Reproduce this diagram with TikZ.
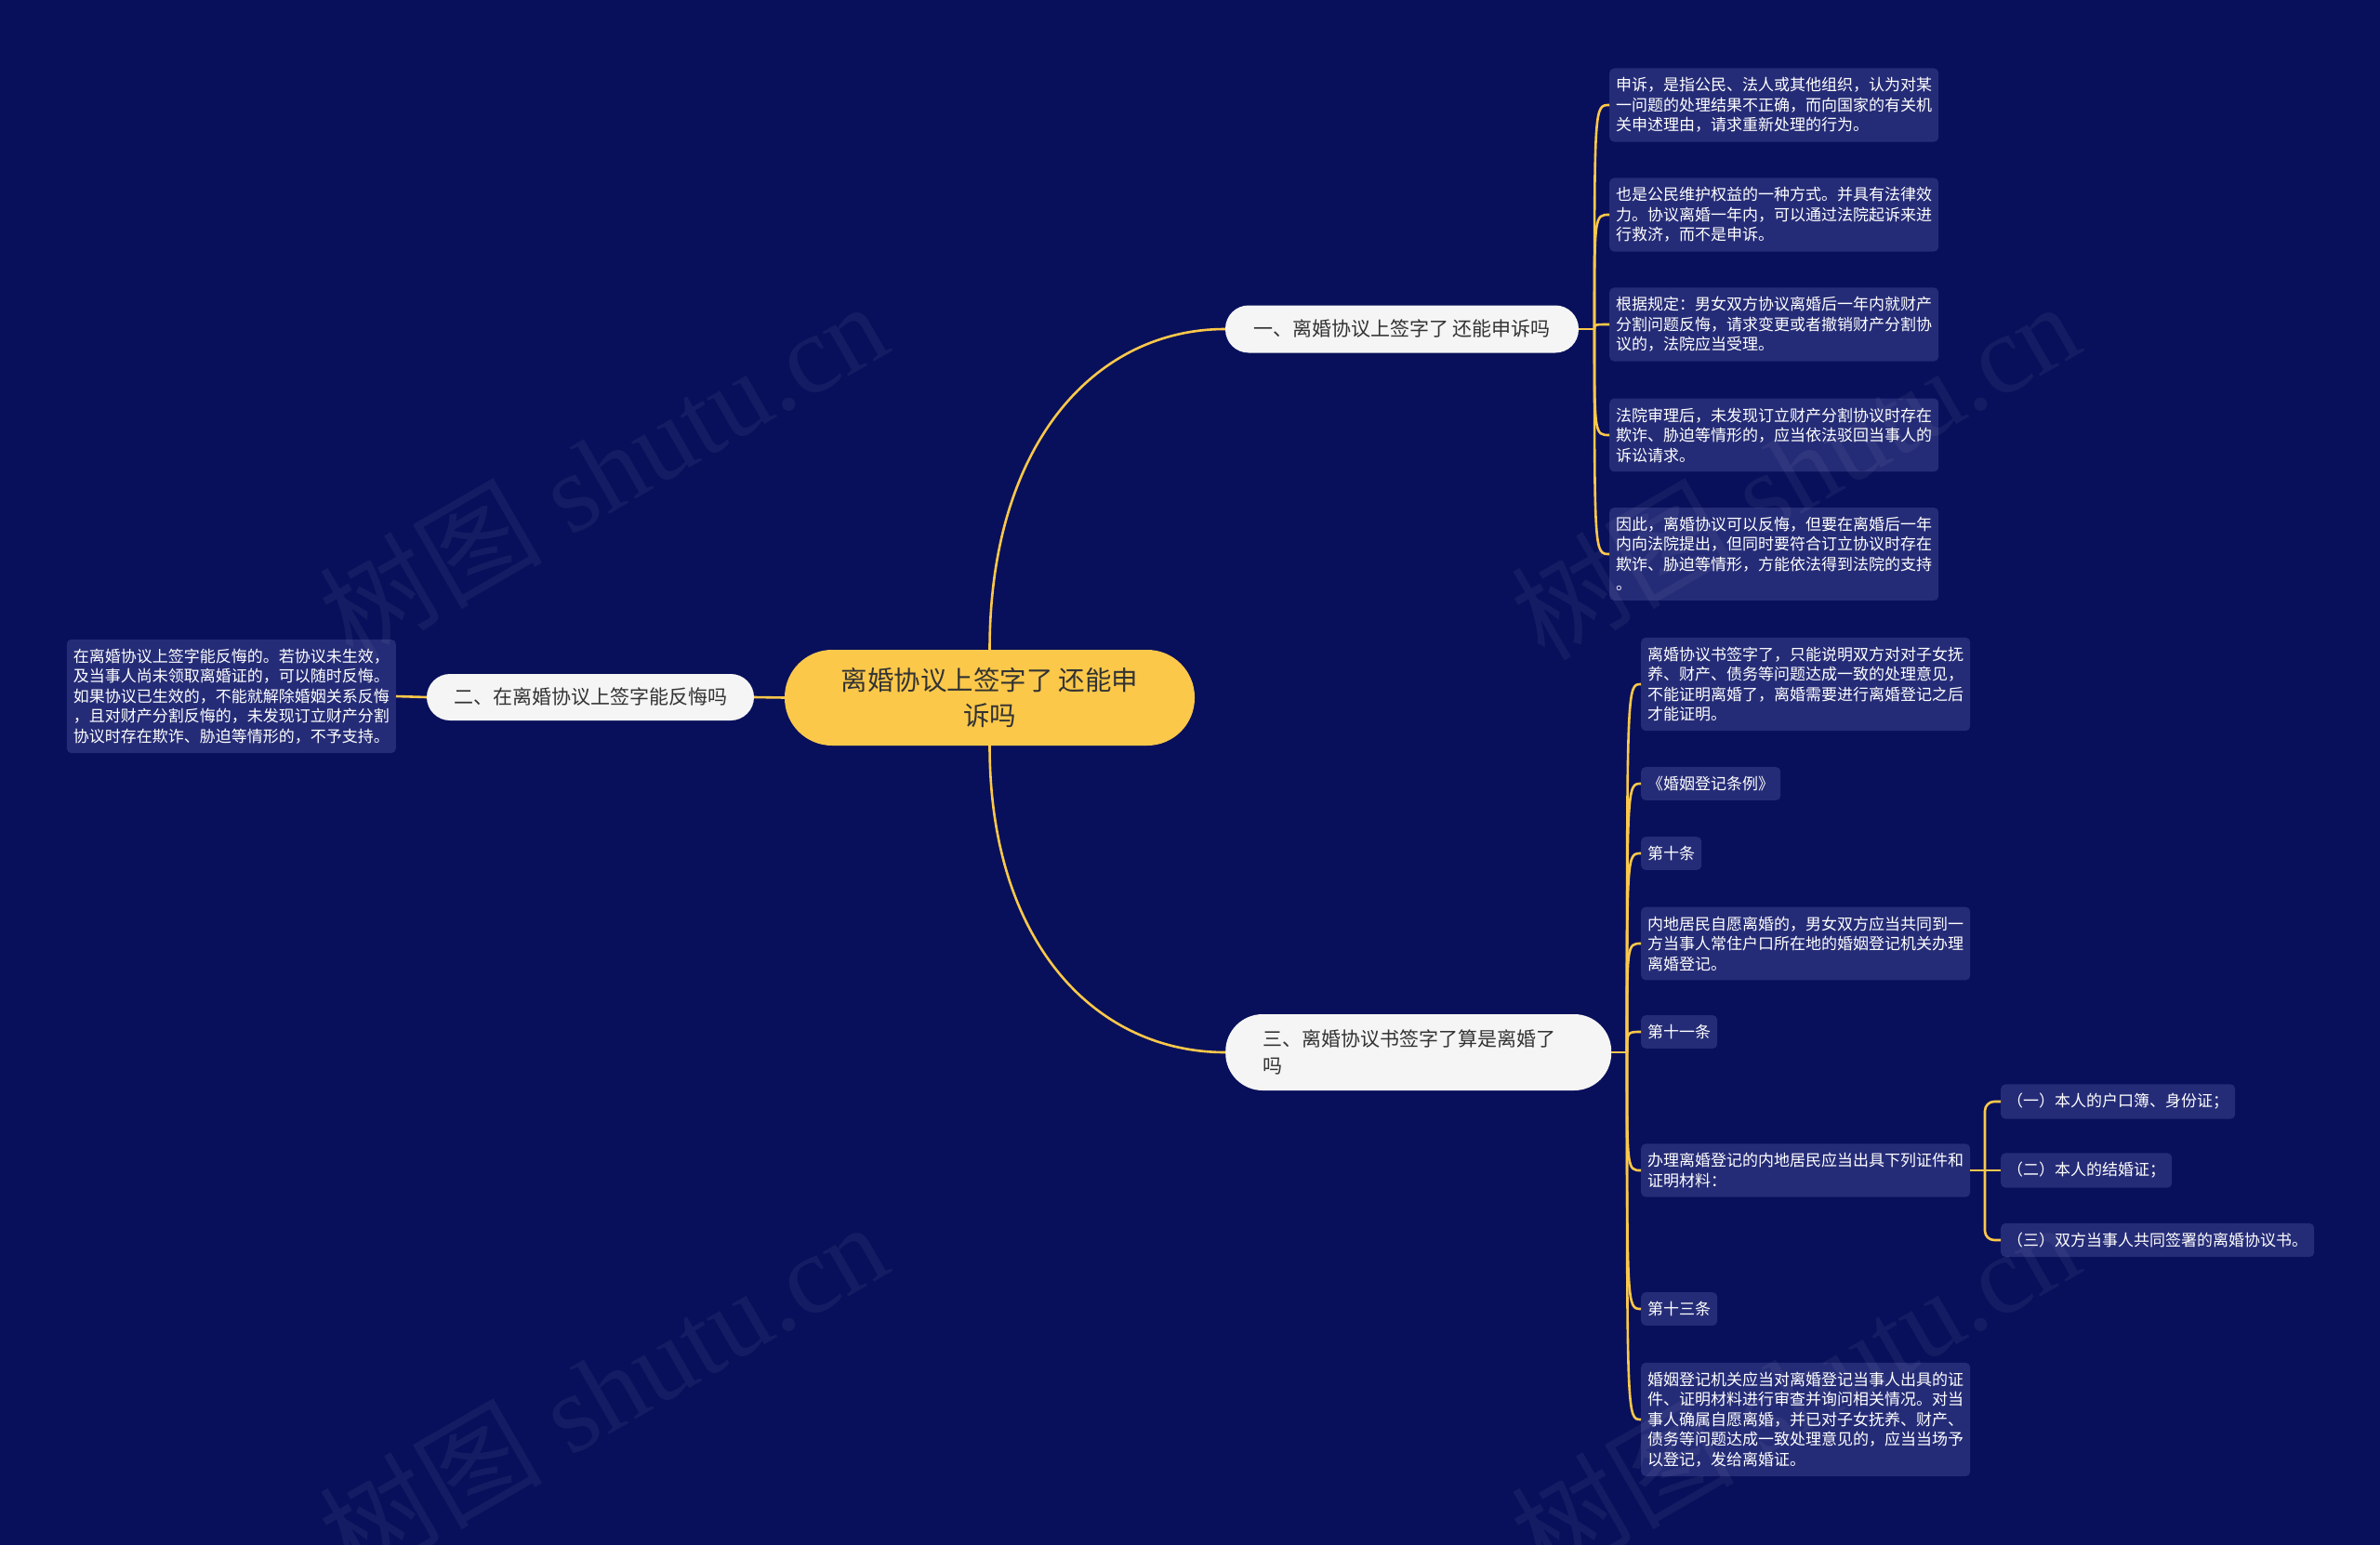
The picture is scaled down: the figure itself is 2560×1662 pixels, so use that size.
\documentclass[tikz,border=0pt]{standalone}
\usepackage{fontspec}
\setmainfont{Liberation Serif}
\newfontfamily\cjk{Noto Sans CJK SC}
\definecolor{bgc}{HTML}{08105B}
\definecolor{leafc}{HTML}{252C77}
\definecolor{gold}{HTML}{FCC84A}
\definecolor{pillc}{HTML}{F5F5F5}
\definecolor{ink}{HTML}{333333}
\begin{document}
\begin{tikzpicture}[x=1pt,y=-1pt,
  conn/.style={draw=gold, line width=2.6pt},
  leafbox/.style={fill=leafc, rounded corners=5pt, text=white,
    font=\cjk\fontsize{17}{21.5}\selectfont, inner xsep=7pt, inner ysep=10pt,
    align=left, anchor=west},
  wideleaf/.style={leafbox, text width=340pt},
  pillbox/.style={fill=pillc, text=ink, font=\cjk\fontsize{21}{29}\selectfont,
    inner xsep=0pt, inner ysep=0pt},
  rootbox/.style={fill=gold, text=ink, font=\cjk\fontsize{28.5}{37.5}\selectfont,
    align=center, minimum width=441pt, minimum height=103pt, rounded corners=51pt},
  wmark/.style={text=white, text opacity=0.05, rotate=30,
    font=\fontsize{120}{120}\selectfont}
]
\fill[bgc] (0,0) rectangle (2560,1662);
\useasboundingbox (0,0) rectangle (2560,1662);

% root and branches
\node[rootbox] (c) at (1064.5,750.5) {离婚协议上签字了 还能申\\诉吗};
\node[pillbox, minimum width=380pt, minimum height=51pt, rounded corners=25pt]
  (b1) at (1508,354) {一、离婚协议上签字了 还能申诉吗};
\node[pillbox, minimum width=352pt, minimum height=50pt, rounded corners=25pt]
  (b2) at (635,750) {二、在离婚协议上签字能反悔吗};
\node[pillbox, anchor=west, align=left, text width=335pt, inner xsep=40pt,
  minimum height=82pt, rounded corners=40pt]
  (b3) at (1318,1132) {三、离婚协议书签字了算是离婚了\\吗};

% leaves of branch 1
\node[wideleaf] (l11) at (1731,113) {申诉，是指公民、法人或其他组织，认为对某\\一问题的处理结果不正确，而向国家的有关机\\关申述理由，请求重新处理的行为。};
\node[wideleaf] (l12) at (1731,231) {也是公民维护权益的一种方式。并具有法律效\\力。协议离婚一年内，可以通过法院起诉来进\\行救济，而不是申诉。};
\node[wideleaf] (l13) at (1731,349) {根据规定：男女双方协议离婚后一年内就财产\\分割问题反悔，请求变更或者撤销财产分割协\\议的，法院应当受理。};
\node[wideleaf] (l14) at (1731,468) {法院审理后，未发现订立财产分割协议时存在\\欺诈、胁迫等情形的，应当依法驳回当事人的\\诉讼请求。};
\node[wideleaf] (l15) at (1731,596) {因此，离婚协议可以反悔，但要在离婚后一年\\内向法院提出，但同时要符合订立协议时存在\\欺诈、胁迫等情形，方能依法得到法院的支持\\。};

% leaf of branch 2
\node[wideleaf, anchor=east] (l21) at (426,749) {在离婚协议上签字能反悔的。若协议未生效，\\及当事人尚未领取离婚证的，可以随时反悔。\\如果协议已生效的，不能就解除婚姻关系反悔\\，且对财产分割反悔的，未发现订立财产分割\\协议时存在欺诈、胁迫等情形的，不予支持。};

% leaves of branch 3
\node[wideleaf] (l31) at (1765,736) {离婚协议书签字了，只能说明双方对对子女抚\\养、财产、债务等问题达成一致的处理意见，\\不能证明离婚了，离婚需要进行离婚登记之后\\才能证明。};
\node[leafbox] (l32) at (1765,843) {《婚姻登记条例》};
\node[leafbox] (l33) at (1765,918) {第十条};
\node[wideleaf] (l34) at (1765,1015) {内地居民自愿离婚的，男女双方应当共同到一\\方当事人常住户口所在地的婚姻登记机关办理\\离婚登记。};
\node[leafbox] (l35) at (1765,1110) {第十一条};
\node[wideleaf] (l36) at (1765,1259) {办理离婚登记的内地居民应当出具下列证件和\\证明材料：};
\node[leafbox] (l37) at (1765,1408) {第十三条};
\node[wideleaf] (l38) at (1765,1527) {婚姻登记机关应当对离婚登记当事人出具的证\\件、证明材料进行审查并询问相关情况。对当\\事人确属自愿离婚，并已对子女抚养、财产、\\债务等问题达成一致处理意见的，应当当场予\\以登记，发给离婚证。};

% sub leaves
\node[leafbox] (s1) at (2152,1185) {（一）本人的户口簿、身份证；};
\node[leafbox] (s2) at (2152,1259) {（二）本人的结婚证；};
\node[leafbox] (s3) at (2152,1334) {（三）双方当事人共同签署的离婚协议书。};

% connectors root
\draw[conn] (c.north) .. controls (1064.5,476) and (1179,354) .. (b1.west);
\draw[conn] (c.south) .. controls (1064.5,1015) and (1179,1132) .. (b3.west);
\draw[conn] (c.west) -- (b2.east);
\draw[conn] (b2.west) -- (l21.east);

% branch 1 spine
\coordinate (sp1) at (1715,354);
\draw[conn] (b1.east) -- (sp1);
\foreach \n in {l11,l12,l13,l14,l15}
  \draw[conn] (sp1) .. controls (sp1 |- \n.west) .. (\n.west);

% branch 3 spine
\coordinate (sp3) at (1750,1132);
\draw[conn] (b3.east) -- (sp3);
\foreach \n in {l31,l32,l33,l34,l35,l36,l37,l38}
  \draw[conn] (sp3) .. controls (sp3 |- \n.west) .. (\n.west);

% sub connectors
\coordinate (sp6) at (2135,1259);
\draw[conn] (l36.east) -- (s2.west);
\draw[conn, rounded corners=10pt] (sp6) |- (s1.west);
\draw[conn, rounded corners=10pt] (sp6) |- (s3.west);

% watermarks
\node[wmark] (wm1) at (648,505) {{\cjk 树图} shutu.cn};
\node[wmark] (wm2) at (1930,505) {{\cjk 树图} shutu.cn};
\node[wmark] (wm3) at (648,1495) {{\cjk 树图} shutu.cn};
\node[wmark] (wm4) at (1930,1495) {{\cjk 树图} shutu.cn};
\end{tikzpicture}
\end{document}
